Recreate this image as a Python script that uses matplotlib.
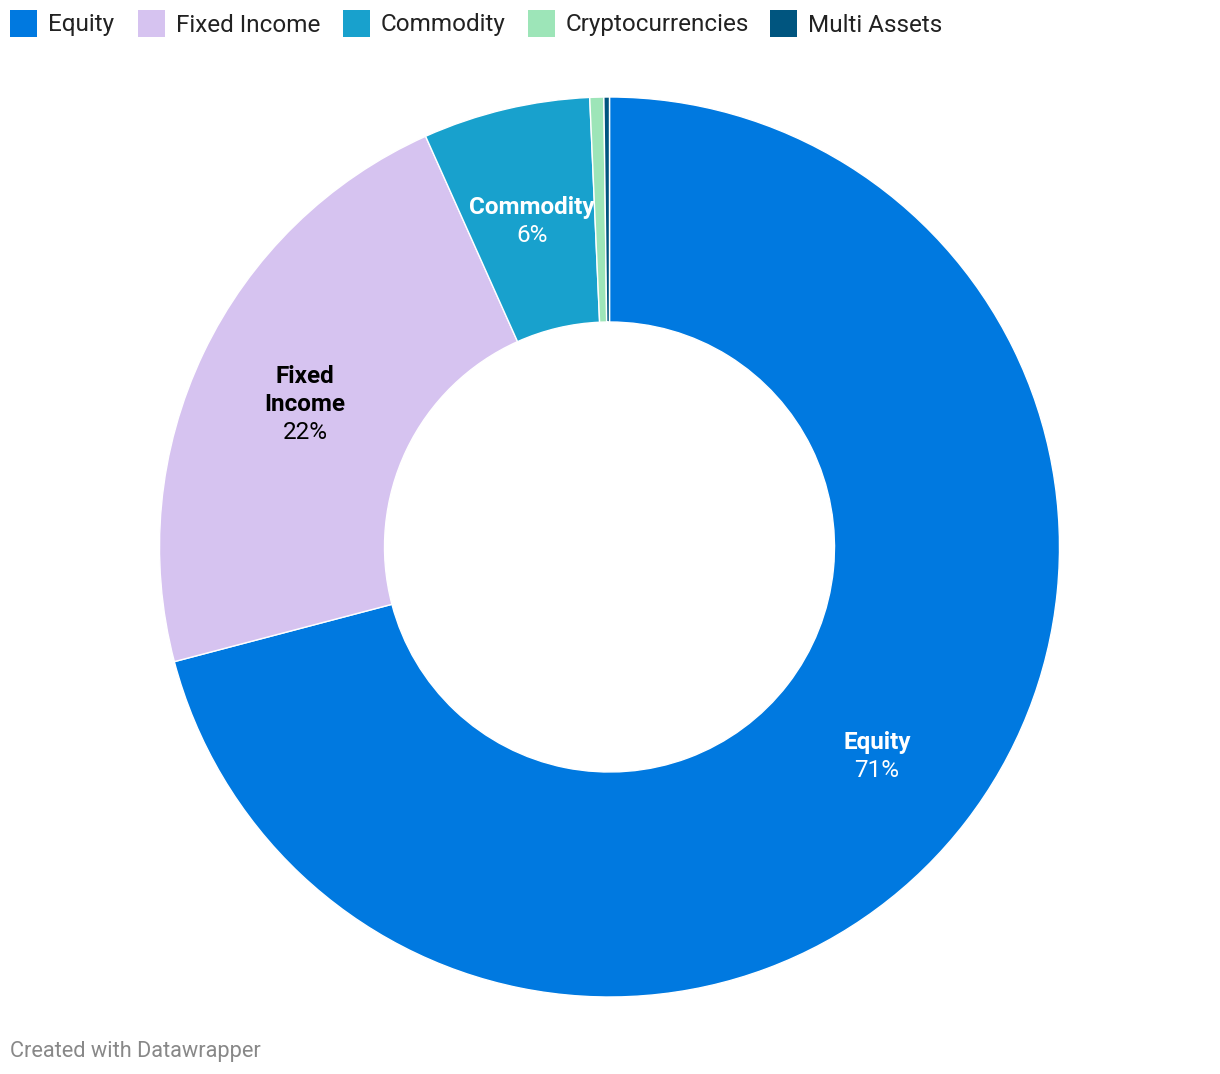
import matplotlib
matplotlib.use("Agg")
import matplotlib.pyplot as plt
from matplotlib.patches import Rectangle
import numpy as np

plt.rcParams['font.family'] = ['Roboto', 'DejaVu Sans']

categories = ["Equity", "Fixed Income", "Commodity", "Cryptocurrencies", "Multi Assets"]
values = [70.9, 22.4, 6.0, 0.5, 0.2]
colors = ["#0079E0", "#D6C3F0", "#18A1CD", "#9DE5B8", "#00557F"]
label_names = {"Equity": "Equity", "Fixed Income": "Fixed\nIncome", "Commodity": "Commodity"}
label_colors = {"Equity": "white", "Fixed Income": "black", "Commodity": "white"}

W, H = 1220, 1074
fig = plt.figure(figsize=(W / 100, H / 100), dpi=100)

cx, cy, R = 609.5, 547, 450
ax = fig.add_axes([(cx - R) / W, (H - cy - R) / H, 2 * R / W, 2 * R / H])
wedges, _ = ax.pie(values, colors=colors, startangle=90, counterclock=False,
                   radius=1.0, wedgeprops=dict(width=0.5, edgecolor="white", linewidth=1))
ax.set_xlim(-1, 1)
ax.set_ylim(-1, 1)
ax.set_aspect("equal")
ax.axis("off")

line_pt = 28 * 0.72
shift = -3 * 0.72
for w, cat, v in zip(wedges, categories, values):
    if cat not in label_names:
        continue
    ang = np.deg2rad((w.theta1 + w.theta2) / 2)
    x, y = 0.75 * np.cos(ang), 0.75 * np.sin(ang)
    lines = label_names[cat].split("\n")
    n = len(lines) + 1
    col = label_colors[cat]
    for i, ln in enumerate(lines):
        off = ((n - 1) / 2 - i) * line_pt + shift
        ax.annotate(ln, xy=(x, y), xytext=(0, off), textcoords="offset points",
                    ha="center", va="center", fontsize=17.5, fontweight="bold", color=col)
    off = ((n - 1) / 2 - (n - 1)) * line_pt + shift
    ax.annotate(f"{round(v):d}%", xy=(x, y), xytext=(0, off), textcoords="offset points",
                ha="center", va="center", fontsize=17.5, color=col)

# legend
leg_x = [10, 138, 343, 528, 770]
for lx, cat, c in zip(leg_x, categories, colors):
    fig.patches.append(Rectangle((lx / W, 1 - 37 / H), 27 / W, 27 / H,
                                 transform=fig.transFigure, facecolor=c, edgecolor="none"))
    fig.text((lx + 38) / W, 1 - 25 / H, cat, ha="left", va="center",
             fontsize=17.5, color="#222222")

fig.text(10 / W, 1 - 1051 / H, "Created with Datawrapper", ha="left", va="center",
         fontsize=15.7, color="#888888")

fig.savefig("out.png", dpi=100, facecolor="white")
